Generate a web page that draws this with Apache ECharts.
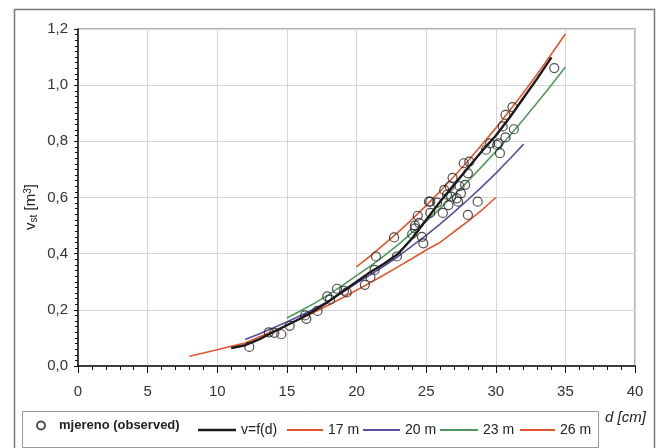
<!DOCTYPE html>
<html><head><meta charset="utf-8">
<script src="https://cdn.jsdelivr.net/npm/echarts@6/dist/echarts.min.js"></script>
<style>html,body{margin:0;padding:0;background:#fff}#c{width:660px;height:448px}</style>
</head><body><div id="c"></div>
<script>
// observed points
const obsD = [12.3,13.7,14.1,14.6,15.2,16.3,16.4,17.2,17.9,18.1,18.6,19.1,19.3,20.6,21.0,21.3,21.4,22.7,22.9,24.0,24.2,24.2,24.4,24.5,24.7,24.8,25.2,25.3,25.3,25.8,26.2,26.3,26.5,26.6,26.7,26.8,26.9,27.2,27.3,27.4,27.5,27.7,27.8,28.0,28.0,28.1,28.7,29.3,29.6,30.1,30.2,30.3,30.5,30.7,30.7,31.2,31.3,34.2];
const obsV = [0.068,0.12,0.118,0.113,0.143,0.18,0.168,0.196,0.248,0.236,0.275,0.268,0.262,0.289,0.316,0.342,0.39,0.458,0.39,0.47,0.5,0.49,0.535,0.51,0.46,0.437,0.585,0.545,0.585,0.582,0.545,0.627,0.61,0.573,0.64,0.603,0.67,0.597,0.585,0.64,0.615,0.722,0.645,0.686,0.538,0.728,0.585,0.77,0.793,0.787,0.793,0.758,0.853,0.894,0.814,0.922,0.843,1.061];
// v=f(d)
const fitD = [11,12,13,14,15,16,17,18,19,20,21,22,23,24,25,26,27,28,29,30,31,32,33,34];
const fitV = [0.064,0.074,0.095,0.12,0.145,0.17,0.198,0.23,0.265,0.3,0.335,0.365,0.4,0.455,0.52,0.585,0.645,0.705,0.765,0.82,0.885,0.955,1.025,1.099];
// 17 m
const h17D = [8,9,10,11,12,13,14,15,16,17,18,19,20,21,22,23,24,25,26,27,28,29,30];
const h17V = [0.035,0.046,0.058,0.07,0.082,0.103,0.124,0.145,0.168,0.192,0.217,0.243,0.27,0.297,0.325,0.354,0.383,0.413,0.44,0.478,0.515,0.555,0.6];
// 20 m
const h20D = [12,13,14,15,16,17,18,19,20,21,22,23,24,25,26,27,28,29,30,31,32];
const h20V = [0.094,0.114,0.135,0.157,0.18,0.205,0.232,0.262,0.295,0.325,0.357,0.39,0.428,0.465,0.505,0.548,0.592,0.638,0.686,0.737,0.79];
// 23 m
const h23D = [15,16,17,18,19,20,21,22,23,24,25,26,27,28,29,30,31,32,33,34,35];
const h23V = [0.171,0.197,0.224,0.254,0.287,0.322,0.356,0.393,0.432,0.476,0.515,0.561,0.609,0.658,0.71,0.764,0.82,0.879,0.939,1.001,1.065];
// 26 m
const h26D = [20,21,22,23,24,25,26,27,28,29,30,31,32,33,34,35];
const h26V = [0.353,0.392,0.434,0.477,0.523,0.571,0.622,0.675,0.73,0.788,0.847,0.91,0.974,1.041,1.111,1.182];

const names = ['mjereno (observed)','v=f(d)','17 m','20 m','23 m','26 m'];
const colors = {black:'#1a1a1a', red:'#e4572e', blue:'#5a4ea3', green:'#4f9a5e'};
const FONT = 'Liberation Sans, Arial, sans-serif';

const pairs = (d, v) => d.map((x, i) => [x, v[i]]);
const lineSeries = (name, d, v, color, w, z) => ({
  name, type:'line', data: pairs(d, v), symbol:'none', smooth:false,
  lineStyle:{color, width:w}, itemStyle:{color}, z, animation:false
});

const chart = echarts.init(document.getElementById('c'), null, {renderer:'canvas'});
const lineLegend = (name, left, w, h) => ({
  data:[{name, icon:'rect'}], left, top:423, padding:0, itemWidth:w, itemHeight:h || 2,
  textStyle:{fontFamily:FONT, fontSize:14, color:'#222'}, selectedMode:false
});
chart.setOption({
  animation:false,
  backgroundColor:'#fff',
  grid:{left:78, right:25, top:29, bottom:82, show:true, borderColor:'#999', borderWidth:1.5, backgroundColor:'transparent'},
  xAxis:{type:'value', min:0, max:40, interval:5,
    axisLine:{show:true, onZero:false, lineStyle:{color:'#111', width:1.5}},
    axisTick:{show:true, length:7, lineStyle:{color:'#111'}},
    minorTick:{show:true, splitNumber:5, length:4, lineStyle:{color:'#111'}},
    axisLabel:{fontFamily:FONT, fontSize:15, color:'#333', margin:18},
    splitLine:{show:true, lineStyle:{color:'#d6d6d6', width:1}}},
  yAxis:{type:'value', min:0, max:1.2, interval:0.2,
    axisLine:{show:true, onZero:false, lineStyle:{color:'#111', width:1.5}},
    axisTick:{show:true, length:4, lineStyle:{color:'#111'}},
    minorTick:{show:true, splitNumber:10, length:3, lineStyle:{color:'#111'}},
    axisLabel:{fontFamily:FONT, fontSize:15, color:'#333', margin:10,
      formatter:v => v.toFixed(1).replace('.', ',')},
    splitLine:{show:true, lineStyle:{color:'#d6d6d6', width:1}}},
  legend:[
    {data:[names[0]], left:36, top:419, padding:0, itemWidth:8, itemHeight:8, selectedMode:false,
      textStyle:{fontFamily:FONT, fontSize:13, fontWeight:'bold', color:'#222', padding:[0,0,0,9]}},
    lineLegend(names[1], 198, 38, 2.5),
    lineLegend(names[2], 287, 36),
    lineLegend(names[3], 363, 37),
    lineLegend(names[4], 440, 38),
    lineLegend(names[5], 520, 35)
  ],
  graphic:[
    {type:'rect', left:12, top:7, shape:{x:0, y:0, width:640, height:450}, style:{fill:'none', stroke:'#777', lineWidth:1.5}, silent:true, z:-10},
    {type:'rect', left:20, top:409, shape:{x:0, y:0, width:576, height:36}, style:{fill:'none', stroke:'#999', lineWidth:1}, silent:true, z:-5},
    {type:'text', x:31, y:207, rotation:Math.PI/2, style:{text:'{v|v}{s|st}{v| [m}{p|3}{v|]}', rich:{
        v:{fontFamily:FONT, fontSize:15, fill:'#222'},
        s:{fontFamily:FONT, fontSize:10, fill:'#222', verticalAlign:'bottom', padding:[6,0,0,0]},
        p:{fontFamily:FONT, fontSize:10, fill:'#222', verticalAlign:'top', padding:[0,0,6,0]}},
      align:'center', verticalAlign:'middle'}, silent:true},
    {type:'text', x:605, y:418, style:{text:'d [cm]', fontFamily:FONT, fontSize:15, fontStyle:'italic', fill:'#222', verticalAlign:'middle'}, silent:true}
  ],
  series:[
    {name:names[0], type:'scatter', data:pairs(obsD, obsV), symbol:'circle', symbolSize:9,
      itemStyle:{color:'rgba(255,255,255,0)', borderColor:'#222', borderWidth:1.2}, z:10},
    lineSeries(names[1], fitD, fitV, colors.black, 2.4, 8),
    lineSeries(names[2], h17D, h17V, colors.red, 1.6, 5),
    lineSeries(names[3], h20D, h20V, colors.blue, 1.6, 5),
    lineSeries(names[4], h23D, h23V, colors.green, 1.6, 5),
    lineSeries(names[5], h26D, h26V, colors.red, 1.6, 5)
  ]
});
</script></body></html>
